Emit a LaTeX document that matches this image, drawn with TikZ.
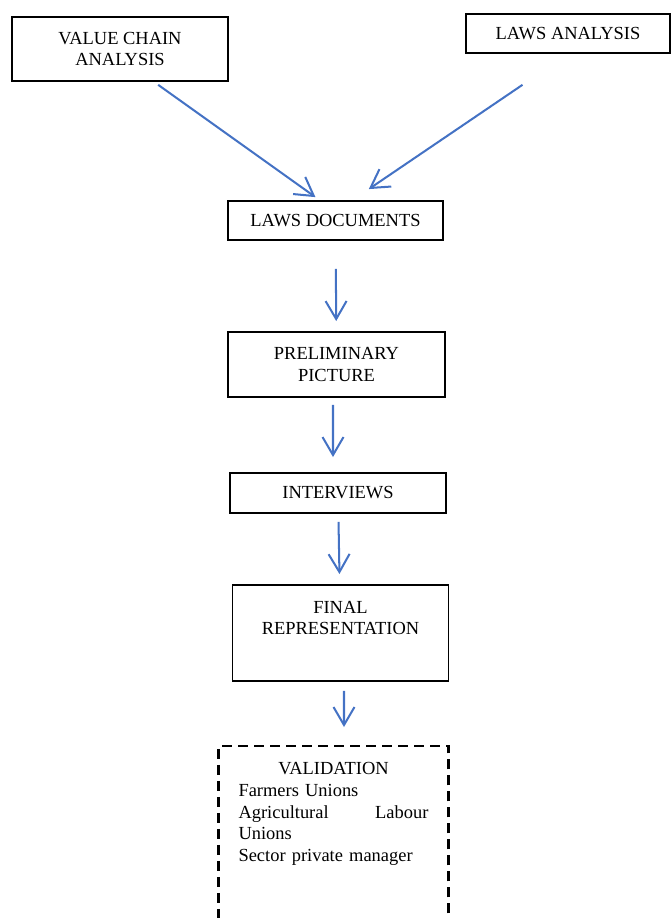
\documentclass[tikz,border=0pt]{standalone}
\usepackage{fontspec}
\setmainfont{Liberation Serif}
\usetikzlibrary{arrows.meta}
\definecolor{arrowblue}{RGB}{68,114,196}

\begin{document}
\begin{tikzpicture}[x=0.02cm,y=-0.02cm,
      bx/.style={draw,rectangle,line width=1.1pt,align=center,
        font=\fontsize{10.5pt}{12.3pt}\selectfont,minimum width=4.32cm},
      fl/.style={draw=arrowblue,line width=1.15pt,
        -{Straight Barb[length=0.36cm,width=0.42cm]}}]
    \useasboundingbox (0,0) rectangle (671,918);
    \node[bx,minimum height=1.28cm](vc) at (120,49) {VALUE CHAIN\\ANALYSIS};
    \node[bx,minimum width=4.08cm,minimum height=0.78cm](la) at (568,33.5) {LAWS ANALYSIS};
    \node[bx,minimum width=4.3cm,minimum height=0.78cm](ld) at (335.5,220.5) {LAWS DOCUMENTS};
    \node[bx,minimum width=4.34cm,minimum height=1.3cm](pp) at (336.5,364.5) {PRELIMINARY\\PICTURE};
    \node[bx,minimum height=0.8cm](iv) at (338,493) {INTERVIEWS};
    \node[bx,minimum height=1.92cm](fr) at (340.5,633) {FINAL\\REPRESENTATION\\[5pt]\mbox{}};
    \node[bx,line width=1.3pt,dash pattern=on 0.2cm off 0.12cm,anchor=north,minimum width=4.6cm,
      text width=3.8cm,align=left,inner ysep=9.4pt,text depth=3.6cm](val) at (333.5,745)
      {\makebox[\linewidth]{VALIDATION}\\Farmers Unions\\Agricultural\hfill Labour\\Unions\\Sector private manager};
    \draw[fl,shorten <=0.1cm,shorten >=0.1cm](vc.-44)--(ld.128);
    \draw[fl,shorten <=1.1cm,shorten >=0.39cm](la.south)--(ld.50);
    \draw[fl,shorten <=0.56cm,shorten >=0.2cm](ld)--(pp);
    \draw[fl,shorten <=0.14cm,shorten >=0.3cm]([xshift=-0.07cm]pp.south)--([xshift=-0.1cm]iv.north);
    \draw[fl,shorten <=0.16cm,shorten >=0.2cm](iv)--(fr);
    \draw[fl,shorten <=0.18cm,shorten >=0.36cm]([xshift=0.07cm]fr.south)--([xshift=0.21cm]val.north);
\end{tikzpicture}
\end{document}
